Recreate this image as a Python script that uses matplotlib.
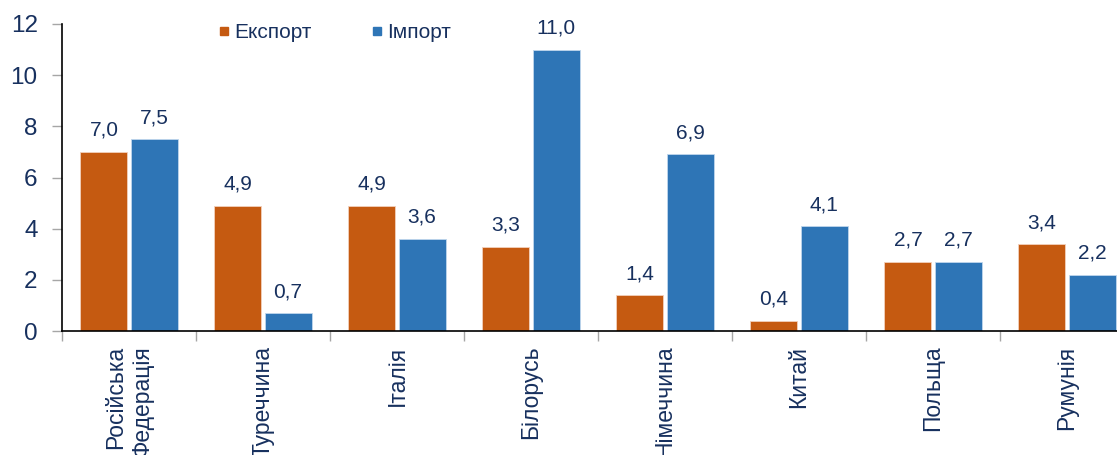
import matplotlib
matplotlib.use("Agg")
import matplotlib.pyplot as plt
from matplotlib.lines import Line2D
import numpy as np

categories = ["Російська\nФедерація", "Туреччина", "Італія", "Білорусь",
              "Німеччина", "Китай", "Польща", "Румунія"]
export_vals = [7.0, 4.9, 4.9, 3.3, 1.4, 0.4, 2.7, 3.4]
import_vals = [7.5, 0.7, 3.6, 11.0, 6.9, 4.1, 2.7, 2.2]
series_names = ["Експорт", "Імпорт"]
yticks = [0, 2, 4, 6, 8, 10, 12]

plt.rcParams['font.family'] = ['Liberation Sans', 'DejaVu Sans']
txt = '#17305E'
c_exp = '#C55A11'
c_imp = '#2E75B6'

W, H = 1117, 455
fig = plt.figure(figsize=(W/100, H/100), dpi=100)
ax = fig.add_axes([62/W, (H-331)/H, 1072/W, (331-24)/H])

x = np.arange(len(categories))
bw = 0.35
off = 0.187
b1 = ax.bar(x - off, export_vals, bw, color=c_exp, edgecolor='#F2D0BC', linewidth=0.6)
b2 = ax.bar(x + off, import_vals, bw, color=c_imp, edgecolor='#BFD6EC', linewidth=0.6)

def fmt(v):
    return f"{v:.1f}".replace('.', ',')

for bars, vals in ((b1, export_vals), (b2, import_vals)):
    for r, v in zip(bars, vals):
        ax.annotate(fmt(v), (r.get_x() + r.get_width()/2, v), xytext=(0, 11.5),
                    textcoords='offset points', ha='center', va='baseline',
                    fontsize=15, color=txt)

ax.set_xlim(-0.5, len(categories) - 0.5)
ax.set_ylim(0, 12)
ax.set_yticks(yticks)
ax.set_yticklabels([str(t) for t in yticks], fontsize=17.5, color=txt)
ax.tick_params(axis='y', direction='out', length=7, color='#A6A6A6', width=1, pad=10.5)

ax.set_xticks(np.arange(len(categories) + 1) - 0.5)
ax.set_xticklabels([])
ax.tick_params(axis='x', direction='out', length=7, color='#A6A6A6', width=1)
ax.set_xticks(x, minor=True)
ax.set_xticklabels(categories, minor=True, rotation=90, fontsize=16.5, color=txt,
                   va='top', ha='center', multialignment='right')
ax.tick_params(axis='x', which='minor', length=0, pad=10.5)

for s in ['top', 'right']:
    ax.spines[s].set_visible(False)
ax.spines['left'].set_color('black')
ax.spines['bottom'].set_color('black')
ax.spines['left'].set_linewidth(1.2)
ax.spines['bottom'].set_linewidth(1.2)

handles = [Line2D([], [], marker='s', linestyle='none', markersize=6, color=c_exp),
           Line2D([], [], marker='s', linestyle='none', markersize=6, color=c_imp)]
leg = fig.legend(handles, series_names, loc='center left',
                 bbox_to_anchor=(218/W, 1 - 33/H), ncol=2, frameon=False,
                 fontsize=15, handlelength=0.6, handletextpad=0.2,
                 columnspacing=2.8, borderaxespad=0, borderpad=0)
for t in leg.get_texts():
    t.set_color(txt)

fig.savefig('out.png', dpi=100)
